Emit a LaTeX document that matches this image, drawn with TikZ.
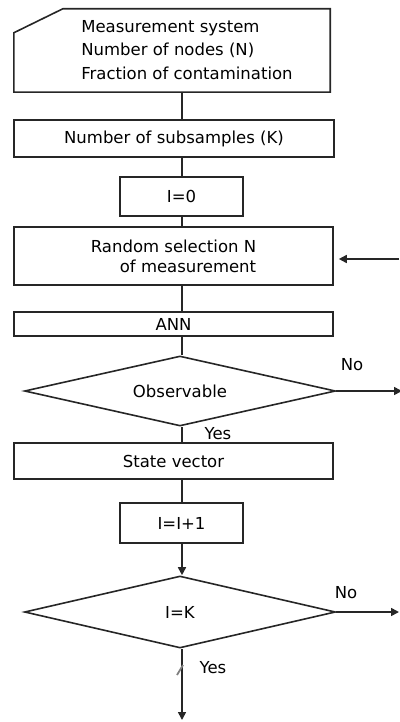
\documentclass[tikz,border=0pt]{standalone}
\usepackage{fontspec}
\setmainfont{DejaVu Sans}
\usetikzlibrary{arrows.meta, positioning, shapes.geometric}

\begin{document}
\begin{tikzpicture}[
    x=1pt, y=-1pt,
    >={Triangle[length=8pt, width=8pt]},
    font=\fontsize{16.5}{20}\selectfont,
    box line/.style={draw=black!85, line width=1.6pt},
    process/.style={box line, inner sep=0pt, align=center},
    decision/.style={
        diamond, box line, inner sep=0pt, aspect=4.4,
        minimum width=311pt, minimum height=#1
    },
    flow line/.style={draw=black!85, line width=1.6pt},
    flow arrow/.style={flow line, ->},
    branch label/.style={inner sep=0pt}
]
    \useasboundingbox (0,0) rectangle (399,722);

    % Spine of the chart
    \coordinate (spine) at (182,0);

    % --- INPUT CARD ---
    \node[inner sep=0pt, minimum width=316pt, minimum height=83pt] (meas) at (172,50.5) {};
    \draw[box line] ([yshift=-24pt]meas.north west) -- ([xshift=49pt]meas.north west)
        -- (meas.north east) -- (meas.south east) -- (meas.south west) -- cycle;
    \node[align=left, inner sep=0pt] (meas text) at (187,50)
        {Measurement system\\[3.5pt]Number of nodes (N)\\[3.5pt]Fraction of contamination};

    % --- PROCESS BOXES ---
    \node[process, minimum width=320pt, minimum height=37pt] (nsub) at (174,138.5) {Number of subsamples (K)};
    \node[process, minimum width=123pt, minimum height=39pt] (izero) at (181.5,196.5) {I=0};
    \node[process, align=right, minimum width=319pt, minimum height=58pt] (rand) at (173.5,256)
        {Random selection N\\of measurement};
    \node[process, minimum width=319pt, minimum height=24pt] (ann) at (173.5,324) {ANN};
    \node[decision=70pt] (obs) at (180,391) {Observable};
    \node[process, minimum width=319pt, minimum height=36pt] (state) at (173.5,461) {State vector};
    \node[process, minimum width=123pt, minimum height=40pt] (iinc) at (181.5,523) {I=I+1};
    \node[decision=72pt] (ik) at (180,612) {I=K};

    % --- CONNECTORS ---
    \draw[flow line] (meas.south -| spine) -- (nsub.north -| spine);
    \draw[flow line] (nsub.south -| spine) -- (izero.north -| spine);
    \draw[flow line] (izero.south -| spine) -- (rand.north -| spine);
    \draw[flow line] (rand.south -| spine) -- (ann.north -| spine);
    \draw[flow line] (ann.south -| spine) -- (obs.north -| spine);
    \draw[flow line] (obs.south -| spine) -- (state.north -| spine);
    \draw[flow line] (state.south -| spine) -- (iinc.north -| spine);
    \draw[flow arrow] (iinc.south -| spine) -- (ik.north -| spine);

    % Loop back into the random selection
    \coordinate (loop in) at (399,259);
    \draw[flow arrow, shorten >=5pt] (loop in) -- (loop in -| rand.east);

    % Branches
    \coordinate (obs out) at (402,391);
    \draw[flow arrow] (obs.east) -- (obs out);
    \coordinate (ik out) at (399,612);
    \draw[flow arrow] (ik.east) -- (ik out);
    \coordinate (end) at (182,720);
    \draw[flow arrow] (ik.south -| spine) -- (end);
    \draw[gray, line width=1.8pt] (177,675) -- (183,665);

    % Branch labels
    \node[branch label] (obs no) at (352,365) {No};
    \node[branch label] (obs yes) at (218,434) {Yes};
    \node[branch label] (ik no) at (346,593) {No};
    \node[branch label] (ik yes) at (213,668) {Yes};

\end{tikzpicture}
\end{document}
